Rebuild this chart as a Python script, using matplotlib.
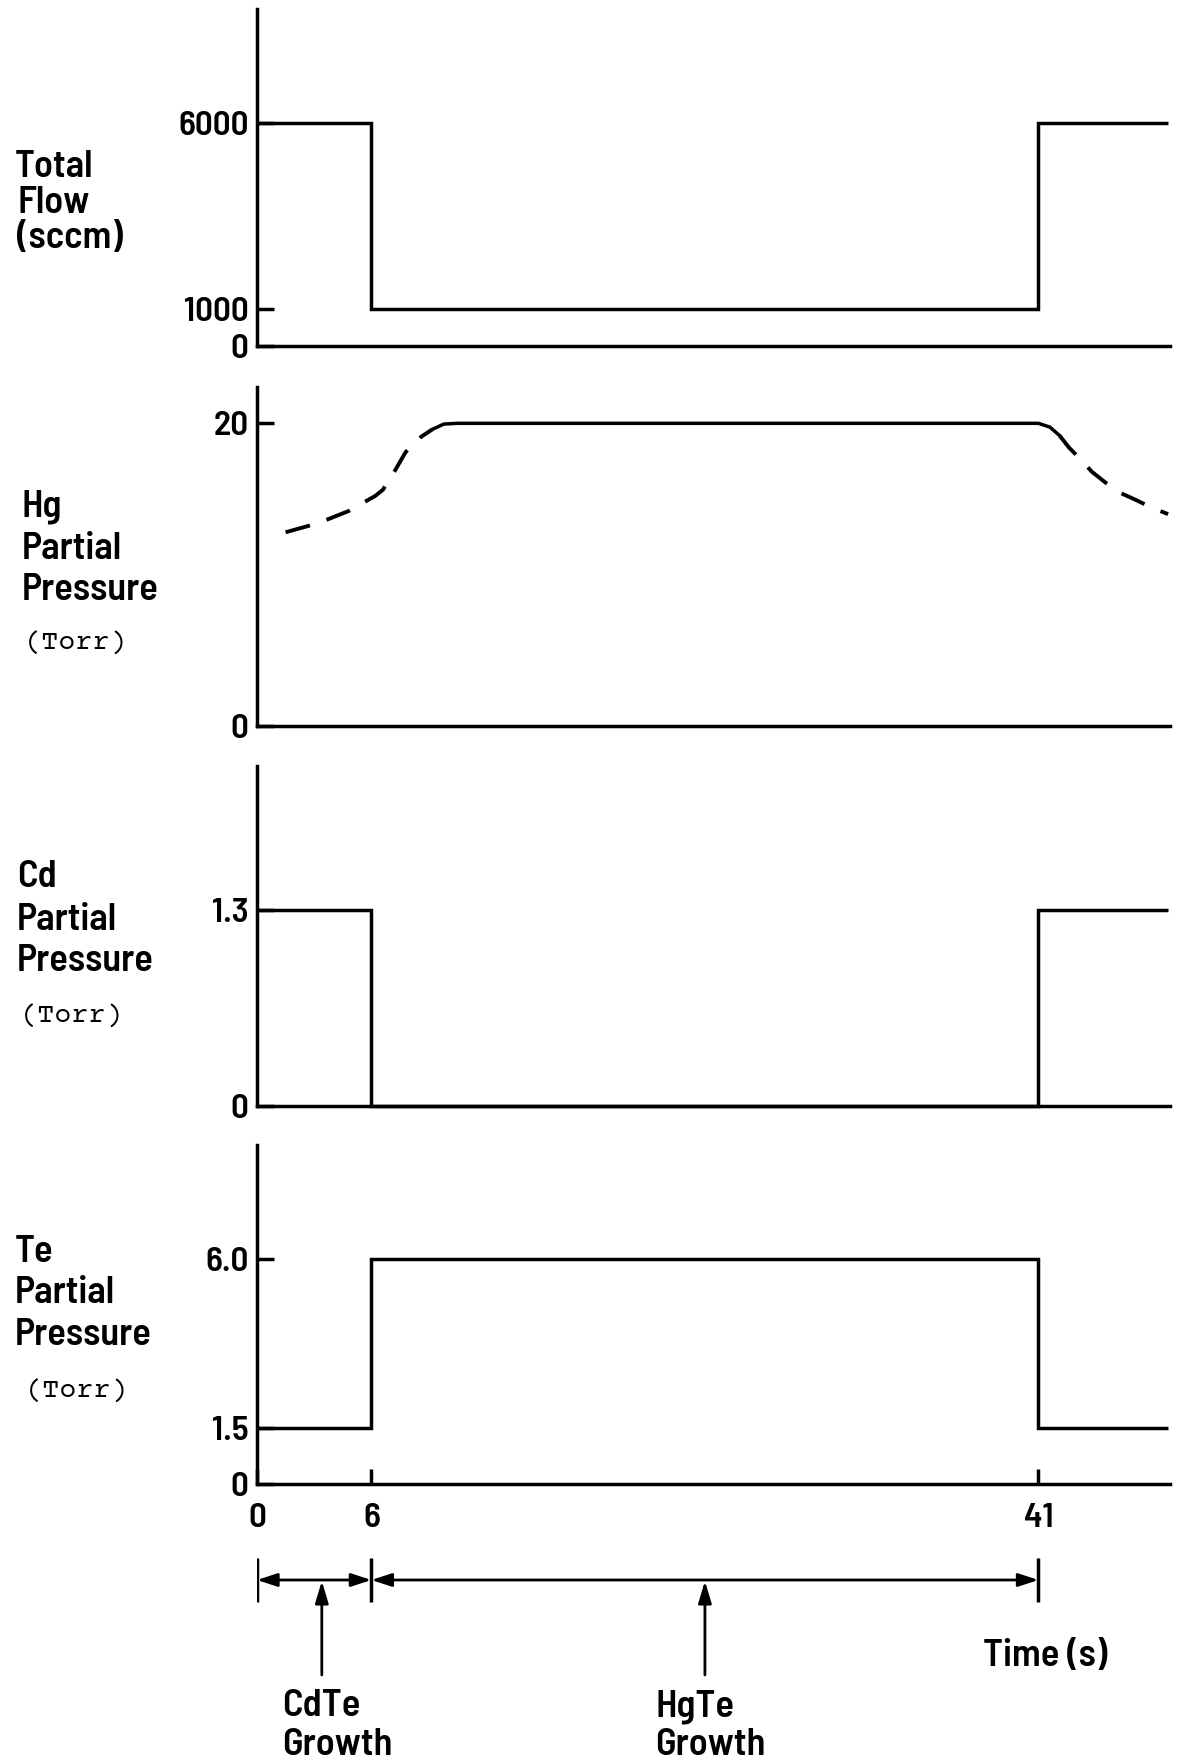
import os
import matplotlib
matplotlib.use('Agg')
import matplotlib.pyplot as plt
from matplotlib import font_manager as fm

# ---------------- data ----------------
edges = [0, 6, 41, 47.8]                 # time edges of the steps (s)
flow_vals = [6000, 1000, 6000]           # total flow (sccm)
cd_vals = [1.3, 0, 1.3]                  # Cd partial pressure (Torr)
te_vals = [1.5, 6.0, 1.5]                # Te partial pressure (Torr)

hg_rise_t = [1.5, 3.2, 4.8, 6.2, 6.6, 7.2, 7.8, 8.6, 9.2]
hg_rise_p = [12.8, 13.4, 14.2, 15.2, 15.6, 16.8, 18.1, 19.1, 19.6]
hg_flat_t = [9.2, 9.8, 10.5, 41.0, 41.6, 42.1]
hg_flat_p = [19.6, 19.95, 20.0, 20.0, 19.75, 19.2]
hg_fall_t = [42.1, 42.6, 43.3, 43.8, 44.5, 45.3, 46.0, 47.0, 47.8]
hg_fall_p = [19.2, 18.4, 17.5, 16.8, 16.1, 15.4, 15.0, 14.4, 14.0]

flow_ticks = [0, 1000, 6000]
flow_ticklabels = ['0', '1000', '6000']
hg_ticks = [0, 20]
hg_ticklabels = ['0', '20']
cd_ticks = [0, 1.3]
cd_ticklabels = ['0', '1.3']
te_ticks = [0, 1.5, 6.0]
te_ticklabels = ['0', '1.5', '6.0']
time_ticks = [0, 6, 41]
time_ticklabels = ['0', '6', '41']
y_maxima = [9070, 22.4, 2.25, 9.04]
x_max = 47.9

phase_bounds = [(0, 6), (6, 41)]
phase_arrow_x = [3.4, 23.5]
phase_names = [('CdTe', 'Growth'), ('HgTe', 'Growth')]
phase_text_x = [1.3, 20.9]

# ---------------- fonts ----------------
by_file = {os.path.basename(f.fname): f.fname for f in fm.fontManager.ttflist}


def first_file(cands):
    for c in cands:
        if c in by_file:
            return by_file[c]
    return None


sans_path = first_file(['BarlowSemiCondensed-SemiBold.ttf', 'BarlowSemiCondensed-Bold.ttf',
                        'BarlowCondensed-SemiBold.ttf', 'LiberationSansNarrow-Bold.ttf',
                        'DejaVuSansCondensed-Bold.ttf', 'LiberationSans-Bold.ttf'])
mono_path = first_file(['CourierPrime-Regular.ttf', 'LiberationMono-Regular.ttf',
                        'DejaVuSansMono.ttf'])
if sans_path:
    FP = fm.FontProperties(fname=sans_path)
else:
    FP = fm.FontProperties(family='DejaVu Sans', weight='bold')
if mono_path:
    MP = fm.FontProperties(fname=mono_path)
else:
    MP = fm.FontProperties(family='DejaVu Sans Mono')

W, H = 1185, 1760
fig = plt.figure(figsize=(W / 100, H / 100), dpi=100)
fig.patch.set_facecolor('white')
renderer = fig.canvas.get_renderer()


def fp(base, size):
    p = base.copy()
    p.set_size(size)
    return p


def fit_size(base, text, target_px, ref=30.0):
    t = fig.text(0, 0, text, fontproperties=fp(base, ref))
    w = t.get_window_extent(renderer).width
    t.remove()
    return ref * target_px / w


LABFS = fit_size(FP, 'Pressure', 137)
TICKFS = fit_size(FP, '6000', 71)
MONOFS = min(fit_size(MP, '(Torr)', 106), 20.5)


def fx(px):
    return px / W


def fy(py):
    return 1 - py / H


XL, XR = 257, 1170
panels_px = [(9, 346), (387, 726), (766, 1106), (1145, 1484)]
LW = 2.5

axes = []
for (top, bot), ymax in zip(panels_px, y_maxima):
    ax = fig.add_axes([fx(XL), fy(bot), fx(XR - XL), (bot - top) / H])
    ax.set_xlim(0, x_max)
    ax.set_ylim(0, ymax)
    for s in ['top', 'right']:
        ax.spines[s].set_visible(False)
    for s in ['left', 'bottom']:
        ax.spines[s].set_linewidth(LW)
    ax.tick_params(axis='y', direction='in', length=12, width=LW, pad=6)
    ax.tick_params(axis='x', direction='in', length=11, width=LW, pad=14)
    ax.set_xticks([])
    ax.patch.set_alpha(0)
    axes.append(ax)

ax1, ax2, ax3, ax4 = axes

ax1.stairs(flow_vals, edges, baseline=None, color='k', lw=LW, clip_on=False)
ax1.set_yticks(flow_ticks, flow_ticklabels)

ax2.plot(hg_rise_t, hg_rise_p, color='k', lw=LW + 0.3, dashes=(6.5, 4.5))
ax2.plot(hg_flat_t, hg_flat_p, color='k', lw=LW, solid_capstyle='round')
ax2.plot(hg_fall_t, hg_fall_p, color='k', lw=LW + 0.3, dashes=(6.5, 4.5))
ax2.set_yticks(hg_ticks, hg_ticklabels)

ax3.stairs(cd_vals, edges, baseline=None, color='k', lw=LW, clip_on=False)
ax3.set_yticks(cd_ticks, cd_ticklabels)

ax4.stairs(te_vals, edges, baseline=None, color='k', lw=LW, clip_on=False)
ax4.set_yticks(te_ticks, te_ticklabels)
ax4.set_xticks(time_ticks, time_ticklabels)

for ax in axes:
    for t in ax.get_xticklabels() + ax.get_yticklabels():
        t.set_fontproperties(fp(FP, TICKFS))

# ---------------- left labels ----------------
def label(x, y, s):
    fig.text(fx(x), fy(y), s, fontproperties=fp(FP, LABFS), ha='left', va='baseline')


def unit(x, y, s):
    fig.text(fx(x), fy(y), s, fontproperties=fp(MP, MONOFS), ha='left', va='center')


label(15, 177, 'Total')
label(18, 213, 'Flow')
label(17, 248, '(sccm)')

label(22, 517, 'Hg')
label(22, 559, 'Partial')
label(22, 600, 'Pressure')
unit(25, 642, '(Torr)')

label(17, 887, 'Cd')
label(17, 930, 'Partial')
label(17, 971, 'Pressure')
unit(21, 1015, '(Torr)')

label(15, 1262, 'Te')
label(15, 1303, 'Partial')
label(15, 1345, 'Pressure')
unit(26, 1390, '(Torr)')

# ---------------- bottom phase annotation ----------------
axb = fig.add_axes([fx(XL), 0, fx(XR - XL), (H - 1540) / H])
axb.set_xlim(0, x_max)
axb.set_ylim(H, 1540)
axb.axis('off')

LINE_Y = 1580
axb.vlines(time_ticks, 1558, 1602, color='k', lw=LW)
for a, b in phase_bounds:
    axb.annotate('', xy=(b, LINE_Y), xytext=(a, LINE_Y),
                 arrowprops=dict(arrowstyle='<|-|>,head_length=0.55,head_width=0.18',
                                 lw=2.0, color='k', shrinkA=0, shrinkB=0,
                                 mutation_scale=22))
for xc in phase_arrow_x:
    axb.annotate('', xy=(xc, LINE_Y + 1), xytext=(xc, 1675),
                 arrowprops=dict(arrowstyle='-|>,head_length=0.6,head_width=0.18',
                                 lw=2.0, color='k', shrinkA=0, shrinkB=0,
                                 mutation_scale=22))
for xt, (l1, l2) in zip(phase_text_x, phase_names):
    axb.text(xt, 1716, l1, fontproperties=fp(FP, LABFS), ha='left', va='baseline')
    axb.text(xt, 1755, l2, fontproperties=fp(FP, LABFS), ha='left', va='baseline')

axb.text(38.1, 1666, 'Time (s)', fontproperties=fp(FP, LABFS), ha='left', va='baseline')

fig.savefig('out.png', dpi=100, facecolor='white')
